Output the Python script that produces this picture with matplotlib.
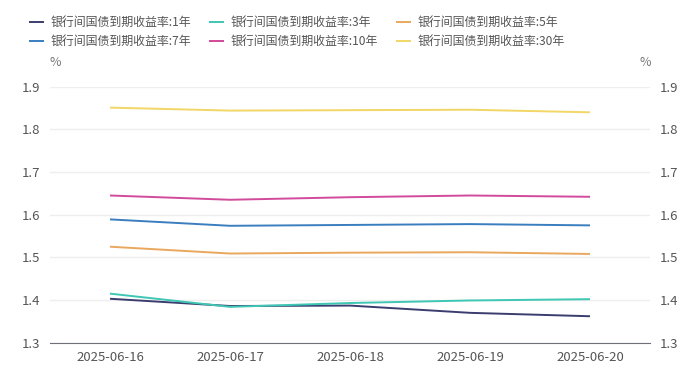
import matplotlib.pyplot as plt

plt.rcParams['font.family'] = ['Noto Sans CJK SC', 'DejaVu Sans']

dates = ['2025-06-16', '2025-06-17', '2025-06-18', '2025-06-19', '2025-06-20']

y1 = [1.403, 1.386, 1.387, 1.370, 1.362]
y3 = [1.415, 1.384, 1.393, 1.399, 1.402]
y5 = [1.525, 1.509, 1.511, 1.512, 1.508]
y7 = [1.589, 1.574, 1.576, 1.578, 1.575]
y10 = [1.645, 1.635, 1.641, 1.645, 1.642]
y30 = [1.851, 1.844, 1.845, 1.846, 1.840]

labels = ['银行间国债到期收益率:1年', '银行间国债到期收益率:3年', '银行间国债到期收益率:5年',
          '银行间国债到期收益率:7年', '银行间国债到期收益率:10年', '银行间国债到期收益率:30年']
colors = ['#3b3d6e', '#3ec7b4', '#e9a85e', '#3a7ebf', '#d14a9b', '#f2d666']
series = [y1, y3, y5, y7, y10, y30]

fig = plt.figure(figsize=(7, 3.76), dpi=100)
ax = fig.add_axes([50 / 700, 1 - 342.7 / 376, 600 / 700, (342.7 - 86.7) / 376])

x = list(range(len(dates)))
lines = []
for s, c, lab in zip(series, colors, labels):
    ln, = ax.plot(x, s, color=c, lw=1.4, label=lab, solid_capstyle='butt')
    lines.append(ln)

ax.set_xlim(-0.5, len(dates) - 0.5)
ax.set_ylim(1.3, 1.9)
ticks = [1.3, 1.4, 1.5, 1.6, 1.7, 1.8, 1.9]
ax.set_yticks(ticks)
ax.set_yticklabels([f'{t:.1f}' for t in ticks])
ax.set_xticks(x)
ax.set_xticklabels(dates)
ax.grid(axis='y', color='#eeeeee', lw=1)
ax.set_axisbelow(True)
for sp in ['top', 'left', 'right']:
    ax.spines[sp].set_visible(False)
ax.spines['bottom'].set_color('#6e7079')
ax.tick_params(axis='both', length=0, labelsize=9.5, colors='#555555')
ax.tick_params(axis='y', pad=7)
ax.tick_params(axis='x', pad=6)

ax2 = ax.twinx()
ax2.set_ylim(1.3, 1.9)
ax2.set_yticks(ticks)
ax2.set_yticklabels([f'{t:.1f}' for t in ticks])
for sp in ['top', 'left', 'right', 'bottom']:
    ax2.spines[sp].set_visible(False)
ax2.tick_params(axis='y', length=0, labelsize=9.5, colors='#555555', pad=7)

fig.text(55 / 700, 1 - 62 / 376, '%', ha='center', va='center', fontsize=9, color='#777777')
fig.text(645 / 700, 1 - 62 / 376, '%', ha='center', va='center', fontsize=9, color='#777777')

# row-major order for the legend (matplotlib fills columns first)
order = [0, 3, 1, 4, 2, 5]
fig.legend(handles=[lines[i] for i in order], loc='upper left', bbox_to_anchor=(18 / 700, 1 - 5 / 376), ncol=3,
           frameon=False, fontsize=8.6, handlelength=1.3, handletextpad=0.5, columnspacing=1.5,
           labelspacing=0.55, labelcolor='#555555')

fig.savefig('out.png', dpi=100)
